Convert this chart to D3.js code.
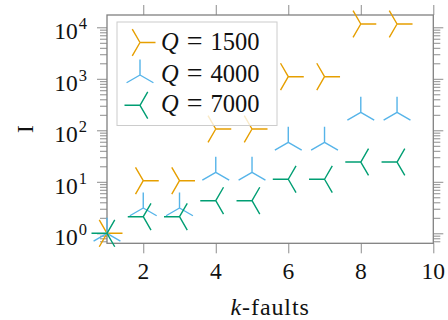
<!DOCTYPE html>
<html><head><meta charset="utf-8">
<script src="https://cdn.jsdelivr.net/npm/d3@7"></script>
<style>
html,body{margin:0;padding:0;background:#fff;}
text{font-family:"Liberation Serif","Times New Roman",serif;fill:#111;}
</style></head>
<body>
<svg id="c" width="448" height="320"></svg>
<script>
const xs = [1, 2, 3, 4, 5, 6, 7, 8, 9];
const q1500 = [1, 10.5, 10.5, 106, 106, 1100, 1100, 11600, 11600];
const q4000 = [1, 3.1, 3.1, 15.3, 15.3, 58.5, 58.5, 224, 224];
const q7000 = [1, 2.1, 2.1, 4.3, 4.3, 11.2, 11.2, 24.2, 24.2];
const seriesNames = ["1500", "4000", "7000"];
const xTicks = [2, 4, 6, 8, 10];
const yMajor = [1, 10, 100, 1000, 10000];
const yExp = ["0", "1", "2", "3", "4"];

const colors = ["#E69F00", "#56B4E9", "#009E73"];
const angles = [[0, 120, 240], [-90, 30, 150], [180, -60, 60]];
const series = [q1500, q4000, q7000];

const L = 107, R = 433.3, T = 15, B = 243.3;
const x = d3.scaleLinear().domain([1, 10]).range([L, R]);
const y = d3.scaleLog().domain([Math.pow(10, -0.194), Math.pow(10, 4.239)]).range([B, T]);

const svg = d3.select("#c");
const axisColor = "#808080";

// minor ticks
const yMinor = [];
for (let e = -1; e <= 4; e++) for (let m = 2; m <= 9; m++) {
  const v = m * Math.pow(10, e);
  if (v >= y.domain()[0] && v <= y.domain()[1]) yMinor.push(v);
}
function styleAxis(g) {
  g.select(".domain").remove();
  g.selectAll("line").attr("stroke", axisColor).attr("stroke-width", 0.9);
  g.selectAll("text").remove();
}
svg.append("g").attr("transform", `translate(${L},0)`).call(d3.axisLeft(y).tickValues(yMinor).tickSize(7).tickFormat("")).call(styleAxis);
svg.append("g").attr("transform", `translate(${R},0)`).call(d3.axisRight(y).tickValues(yMinor).tickSize(7).tickFormat("")).call(styleAxis);
svg.append("g").attr("transform", `translate(${L},0)`).call(d3.axisLeft(y).tickValues(yMajor).tickSize(10).tickFormat("")).call(styleAxis);
svg.append("g").attr("transform", `translate(${R},0)`).call(d3.axisRight(y).tickValues(yMajor).tickSize(10).tickFormat("")).call(styleAxis);
svg.append("g").attr("transform", `translate(0,${B})`).call(d3.axisBottom(x).tickValues(xTicks).tickSize(10).tickFormat("")).call(styleAxis);
svg.append("g").attr("transform", `translate(0,${T})`).call(d3.axisTop(x).tickValues(xTicks).tickSize(10).tickFormat("")).call(styleAxis);

// frame
svg.append("rect").attr("x", L).attr("y", T).attr("width", R - L).attr("height", B - T)
  .attr("fill", "none").attr("stroke", axisColor).attr("stroke-width", 1.3);

// y tick labels
yMajor.forEach((v, i) => {
  const t = svg.append("text").attr("x", 87).attr("y", y(v) + 12).attr("text-anchor", "end").attr("font-size", 23.5);
  t.append("tspan").text("10");
  t.append("tspan").attr("dx", 1).attr("dy", -10).attr("font-size", 16.5).text(yExp[i]);
});
// x tick labels
xTicks.forEach(v => {
  svg.append("text").attr("x", x(v)).attr("y", 278.5).attr("text-anchor", "middle").attr("font-size", 23.5).text(v);
});
// axis labels
const xl = svg.append("text").attr("x", (L + R) / 2).attr("y", 314.5).attr("text-anchor", "middle")
  .attr("font-size", 24).attr("letter-spacing", 0.9);
xl.append("tspan").attr("font-style", "italic").text("k");
xl.append("tspan").text("-faults");
svg.append("text").attr("transform", "translate(33.3,129) rotate(-90)").attr("text-anchor", "middle").attr("font-size", 23.5).text("I");

// markers
const r = 15.5;
function triPath(ang) {
  return ang.map(a => {
    const rad = a * Math.PI / 180;
    return `M0,0L${(r * Math.cos(rad)).toFixed(2)},${(r * Math.sin(rad)).toFixed(2)}`;
  }).join("");
}
series.forEach((s, si) => {
  svg.append("g").selectAll("path").data(xs.map((xv, i) => [xv, s[i]])).join("path")
    .attr("transform", d => `translate(${x(d[0])},${y(d[1])})`)
    .attr("d", triPath(angles[si]))
    .attr("fill", "none").attr("stroke", colors[si]).attr("stroke-width", 1.4);
});

// legend
const lg = svg.append("g");
lg.append("rect").attr("x", 117).attr("y", 22).attr("width", 160).attr("height", 103.5)
  .attr("fill", "#fff").attr("fill-opacity", 0.78).attr("stroke", "#cccccc").attr("stroke-width", 1);
const rowMarkY = [42.5, 75, 105.3];
const rowTextY = [50, 81.7, 111.7];
seriesNames.forEach((n, i) => {
  lg.append("path").attr("transform", `translate(140,${rowMarkY[i]})`).attr("d", triPath(angles[i]))
    .attr("fill", "none").attr("stroke", colors[i]).attr("stroke-width", 1.4);
  const t = lg.append("text").attr("x", 161).attr("y", rowTextY[i]).attr("font-size", 24.5);
  t.append("tspan").attr("font-style", "italic").text("Q");
  t.append("tspan").attr("dx", 8).attr("font-size", 28).text("=");
  t.append("tspan").attr("dx", 8).text(n);
});
</script>
</body></html>
